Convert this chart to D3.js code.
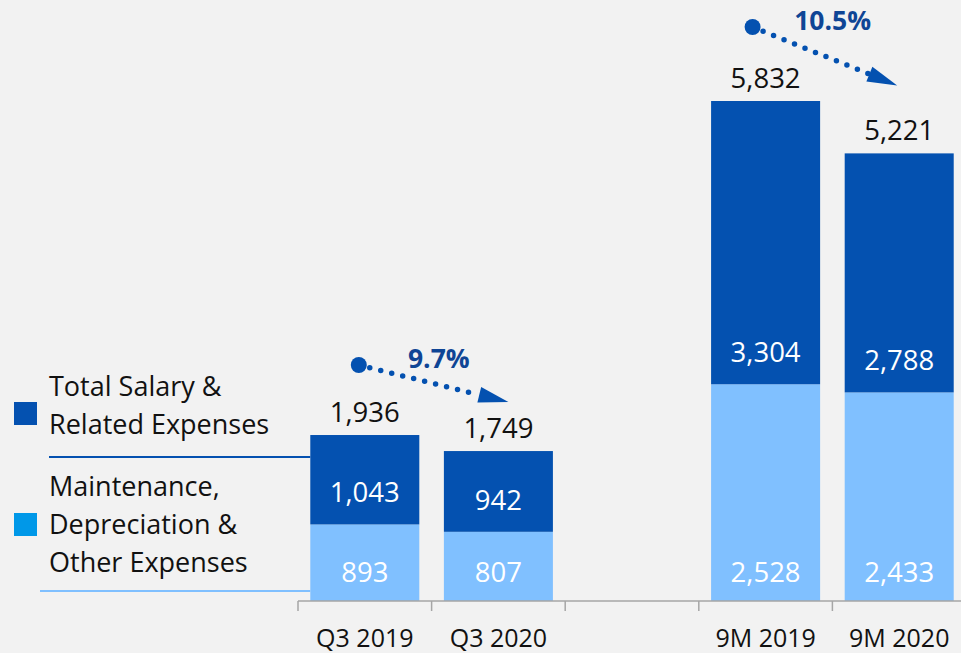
<!DOCTYPE html>
<html>
<head>
<meta charset="utf-8">
<script src="https://cdn.jsdelivr.net/npm/d3@7"></script>
<style>
  html, body { margin: 0; padding: 0; background: #f2f2f2; }
  svg { display: block; font-family: "Open Sans", "Noto Sans", sans-serif; }
</style>
</head>
<body>
<div id="chart"></div>
<script>
// values
var categories  = ["Q3 2019", "Q3 2020", "", "9M 2019", "9M 2020"];
var salary      = [1043, 942, null, 3304, 2788];
var maintenance = [893, 807, null, 2528, 2433];
var totals      = [1936, 1749, null, 5832, 5221];
var changeFrom  = ["Q3 2019", "9M 2019"];
var changeTo    = ["Q3 2020", "9M 2020"];
var changeText  = ["9.7%", "10.5%"];
var legendKeys  = ["Total Salary & Related Expenses", "Maintenance, Depreciation & Other Expenses"];

var darkBlue = "#0451b0",
    lightBlue = "#80c0ff",
    legendLight = "#0098e8";

var width = 961, height = 653;

var svg = d3.select("#chart").append("svg")
    .attr("width", width)
    .attr("height", height);

var x = d3.scaleBand()
    .domain(categories)
    .range([298, 966])
    .padding(0);

var barW = x.bandwidth() * 0.816;

var y = d3.scaleLinear()
    .domain([0, 5832])
    .range([601, 101]);

var rows = categories.map(function(c, i) {
  return {cat: c, salary: salary[i], maint: maintenance[i], total: totals[i]};
}).filter(function(d) { return d.total != null; });

function barX(d) { return x(d.cat) + (x.bandwidth() - barW) / 2; }
function mid(c) { return x(c) + x.bandwidth() / 2; }

// bars: maintenance at the bottom, salary stacked on top
svg.selectAll("rect.maint")
  .data(rows)
  .enter().append("rect")
    .attr("class", "maint")
    .attr("x", barX)
    .attr("width", barW)
    .attr("y", function(d) { return y(d.maint); })
    .attr("height", function(d) { return y(0) - y(d.maint); })
    .style("fill", lightBlue);

svg.selectAll("rect.salary")
  .data(rows)
  .enter().append("rect")
    .attr("class", "salary")
    .attr("x", barX)
    .attr("width", barW)
    .attr("y", function(d) { return y(d.maint + d.salary); })
    .attr("height", function(d) { return y(d.maint) - y(d.maint + d.salary); })
    .style("fill", darkBlue);

var fmt = d3.format(",");
var numSize = "27.5px";

// segment labels sit near the base of each segment
svg.selectAll("text.maintLbl")
  .data(rows)
  .enter().append("text")
    .attr("x", function(d) { return mid(d.cat); })
    .attr("y", function(d) { return y(0) - 19; })
    .attr("text-anchor", "middle")
    .style("font-size", numSize)
    .style("fill", "#fff")
    .text(function(d) { return fmt(d.maint); });

svg.selectAll("text.salLbl")
  .data(rows)
  .enter().append("text")
    .attr("x", function(d) { return mid(d.cat); })
    .attr("y", function(d) { return y(d.maint) - 22; })
    .attr("text-anchor", "middle")
    .style("font-size", numSize)
    .style("fill", "#fff")
    .text(function(d) { return fmt(d.salary); });

svg.selectAll("text.totLbl")
  .data(rows)
  .enter().append("text")
    .attr("x", function(d) { return mid(d.cat); })
    .attr("y", function(d) { return y(d.total) - 13; })
    .attr("text-anchor", "middle")
    .style("font-size", numSize)
    .style("fill", "#111")
    .text(function(d) { return fmt(d.total); });

// axis: labels from d3, ticks drawn at band edges
var axis = svg.append("g")
    .attr("transform", "translate(0,601)")
    .call(d3.axisBottom(x).tickSize(0).tickPadding(28));
axis.select(".domain").remove();
axis.selectAll("text")
    .style("font-size", "25px")
    .style("font-family", "'Open Sans', sans-serif")
    .style("fill", "#111");

svg.append("line")
    .attr("x1", x(categories[0])).attr("x2", width)
    .attr("y1", 601).attr("y2", 601)
    .style("stroke", "#a6a6a6").style("stroke-width", 1.5);

svg.selectAll("line.tick")
  .data(categories)
  .enter().append("line")
    .attr("x1", function(c) { return x(c); })
    .attr("x2", function(c) { return x(c); })
    .attr("y1", 601).attr("y2", 611)
    .style("stroke", "#a6a6a6").style("stroke-width", 1.5);

// change arrows (start dot, dotted path, arrowhead, percentage)
var arrowTweak = [
  {dx0: -6, dy0: -70, dx1: 10, dy1: -49},
  {dx0: -13, dy0: -74, dx1: -2, dy1: -68}
];

changeFrom.forEach(function(from, i) {
  var t0 = totals[categories.indexOf(from)],
      t1 = totals[categories.indexOf(changeTo[i])],
      tw = arrowTweak[i];
  var x0 = mid(from) + tw.dx0, y0 = y(t0) + tw.dy0,
      x1 = mid(changeTo[i]) + tw.dx1, y1 = y(t1) + tw.dy1;
  var dx = x1 - x0, dy = y1 - y0, len = Math.sqrt(dx * dx + dy * dy),
      ux = dx / len, uy = dy / len, headL = 30, headW = 8;
  var bx = x1 - ux * headL, by = y1 - uy * headL;

  var g = svg.append("g");
  g.append("line")
      .attr("x1", x0).attr("y1", y0)
      .attr("x2", bx).attr("y2", by)
      .style("stroke", darkBlue)
      .style("stroke-width", 5.5)
      .style("stroke-linecap", "round")
      .style("stroke-dasharray", "0 11.3");
  g.append("circle")
      .attr("cx", x0).attr("cy", y0).attr("r", 8)
      .style("fill", darkBlue);
  g.append("polygon")
      .attr("points", [
        [x1, y1],
        [bx - uy * headW, by + ux * headW],
        [bx + uy * headW, by - ux * headW]
      ].map(function(p) { return p.join(","); }).join(" "))
      .style("fill", darkBlue);
  g.append("text")
      .attr("x", x0 + 80).attr("y", y0 + 3)
      .attr("text-anchor", "middle")
      .style("font-size", "26.5px")
      .style("font-weight", "bold")
      .style("fill", "#0f4595")
      .text(changeText[i]);
});

// legend
var legendLines = [["Total Salary &", "Related Expenses"],
                   ["Maintenance,", "Depreciation &", "Other Expenses"]];
var legendSpec = [
  {color: darkBlue, sq: 402, text0: 396, rule: 457, ruleX: 49, ruleColor: darkBlue},
  {color: legendLight, sq: 513, text0: 496, rule: 591, ruleX: 40, ruleColor: lightBlue}
];

legendKeys.forEach(function(k, i) {
  var s = legendSpec[i];
  svg.append("rect")
      .attr("x", 14).attr("y", s.sq)
      .attr("width", 23).attr("height", 23)
      .style("fill", s.color);
  svg.append("text")
      .attr("x", 49).attr("y", s.text0)
      .style("font-size", "27px")
      .style("fill", "#111")
    .selectAll("tspan")
    .data(legendLines[i])
    .enter().append("tspan")
      .attr("x", 49)
      .attr("dy", function(d, j) { return j === 0 ? 0 : 38; })
      .text(function(d) { return d; });
  svg.append("line")
      .attr("x1", s.ruleX).attr("x2", barX(rows[0]))
      .attr("y1", s.rule).attr("y2", s.rule)
      .style("stroke", s.ruleColor).style("stroke-width", 2);
});
</script>
</body>
</html>
